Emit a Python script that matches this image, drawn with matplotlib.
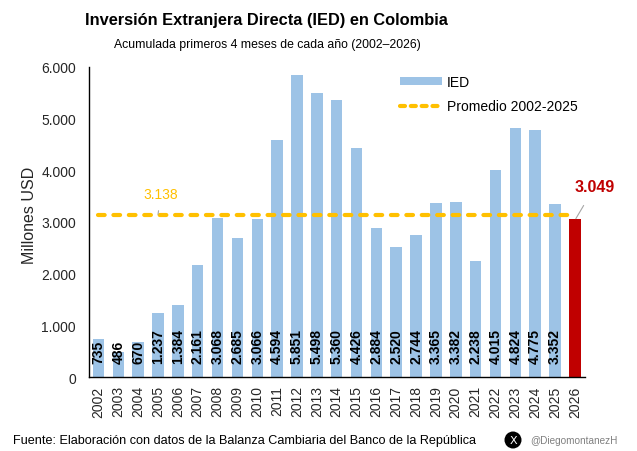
import matplotlib
matplotlib.use('Agg')
import matplotlib.pyplot as plt
from matplotlib.patches import Ellipse, Patch
from matplotlib.lines import Line2D
from matplotlib.ticker import FuncFormatter

years = [str(y) for y in range(2002, 2027)]
values = [735, 486, 670, 1237, 1384, 2161, 3068, 2685, 3066, 4594, 5851, 5498,
          5360, 4426, 2884, 2520, 2744, 3365, 3382, 2238, 4015, 4824, 4775, 3352, 3049]
average = 3138

title = "Inversión Extranjera Directa (IED) en Colombia"
subtitle = "Acumulada primeros 4 meses de cada año (2002–2026)"
source = "Fuente: Elaboración con datos de la Balanza Cambiaria del Banco de la República"
handle = "@DiegomontanezH"

BLUE = '#9DC3E6'
RED = '#C00000'
GOLD = '#FFC000'
plt.rcParams['font.family'] = ['Liberation Sans', 'DejaVu Sans']


def fmt(v):
    return f"{int(v):,}".replace(",", ".")


fig = plt.figure(figsize=(6.37, 4.52), dpi=100)
ax = fig.add_axes([0.139, 0.1637, 0.779, 0.686])

x = list(range(len(years)))
colors = [BLUE] * (len(years) - 1) + [RED]
ax.bar(x, values, width=0.58, color=colors, zorder=2)

for xi, v in zip(x[:-1], values[:-1]):
    ax.annotate(fmt(v), (xi, 0), xytext=(0, 10), textcoords='offset points',
                rotation=90, ha='center', va='bottom', fontsize=10,
                fontweight='bold', color='black', zorder=4)

ax.plot([x[0], x[-1]], [average, average], color=GOLD, lw=3,
        ls=(0, (1.6, 2.1)), dash_capstyle='round', zorder=3)

ax.annotate(fmt(average), xy=(3.0, average + 10), xytext=(3.15, 3540),
            ha='center', va='center', color=GOLD, fontsize=10,
            arrowprops=dict(arrowstyle='-', color='#A6A6A6', lw=0.8,
                            shrinkA=5, shrinkB=0))

ax.annotate(fmt(values[-1]), xy=(x[-1] + 0.05, values[-1] + 15), xytext=(25.0, 3680),
            ha='center', va='center', color=RED, fontsize=11.5, fontweight='bold',
            annotation_clip=False,
            arrowprops=dict(arrowstyle='-', color='#A6A6A6', lw=0.8,
                            shrinkA=7, shrinkB=0))

ax.set_xlim(-0.5, 24.5)
ax.set_ylim(0, 6000)
ax.set_yticks(range(0, 6001, 1000))
ax.yaxis.set_major_formatter(FuncFormatter(lambda v, p: fmt(v)))
ax.set_xticks(x)
ax.set_xticklabels(years, rotation=90)
ax.tick_params(axis='both', length=0, labelsize=10, colors='#262626')
ax.tick_params(axis='y', pad=9)
ax.tick_params(axis='x', pad=6)
for s in ['top', 'right']:
    ax.spines[s].set_visible(False)
for s in ['left', 'bottom']:
    ax.spines[s].set_color('black')
    ax.spines[s].set_linewidth(1)
    ax.spines[s].set_zorder(5)

fig.text(30 / 637, 1 - 215 / 452, "Millones USD", rotation=90, ha='center',
         va='center', fontsize=11.5, color='#262626')

handles = [Patch(facecolor=BLUE, edgecolor='none'),
           Line2D([0], [0], color=GOLD, lw=3, ls=(0, (1.2, 1.4)), dash_capstyle='round')]
fig.legend(handles, ['IED', 'Promedio 2002-2025'], loc='upper left',
           bbox_to_anchor=(400 / 637, 1 - 76 / 452), bbox_transform=fig.transFigure,
           frameon=False, fontsize=10, handlelength=3.0, handleheight=0.55,
           handletextpad=0.4, labelspacing=0.75, borderpad=0, borderaxespad=0)

fig.text(266 / 637, 1 - 20 / 452, title, ha='center', va='center',
         fontsize=11.8, fontweight='bold', color='black')
fig.text(267 / 637, 1 - 45 / 452, subtitle, ha='center', va='center',
         fontsize=8.8, color='black')
fig.text(13 / 637, 1 - 441 / 452, source, ha='left', va='center',
         fontsize=9.1, color='black')

fig.patches.append(Ellipse((513 / 637, 1 - 441 / 452), 17 / 637, 17 / 452,
                           transform=fig.transFigure, facecolor='black',
                           edgecolor='none'))
fig.text(513 / 637, 1 - 441 / 452, "X", ha='center', va='center', fontsize=8,
         color='white', family=['DejaVu Sans'])
fig.text(530 / 637, 1 - 441 / 452, handle, ha='left', va='center', fontsize=7.2,
         color='#808080')

fig.savefig('out.png', dpi=100)
